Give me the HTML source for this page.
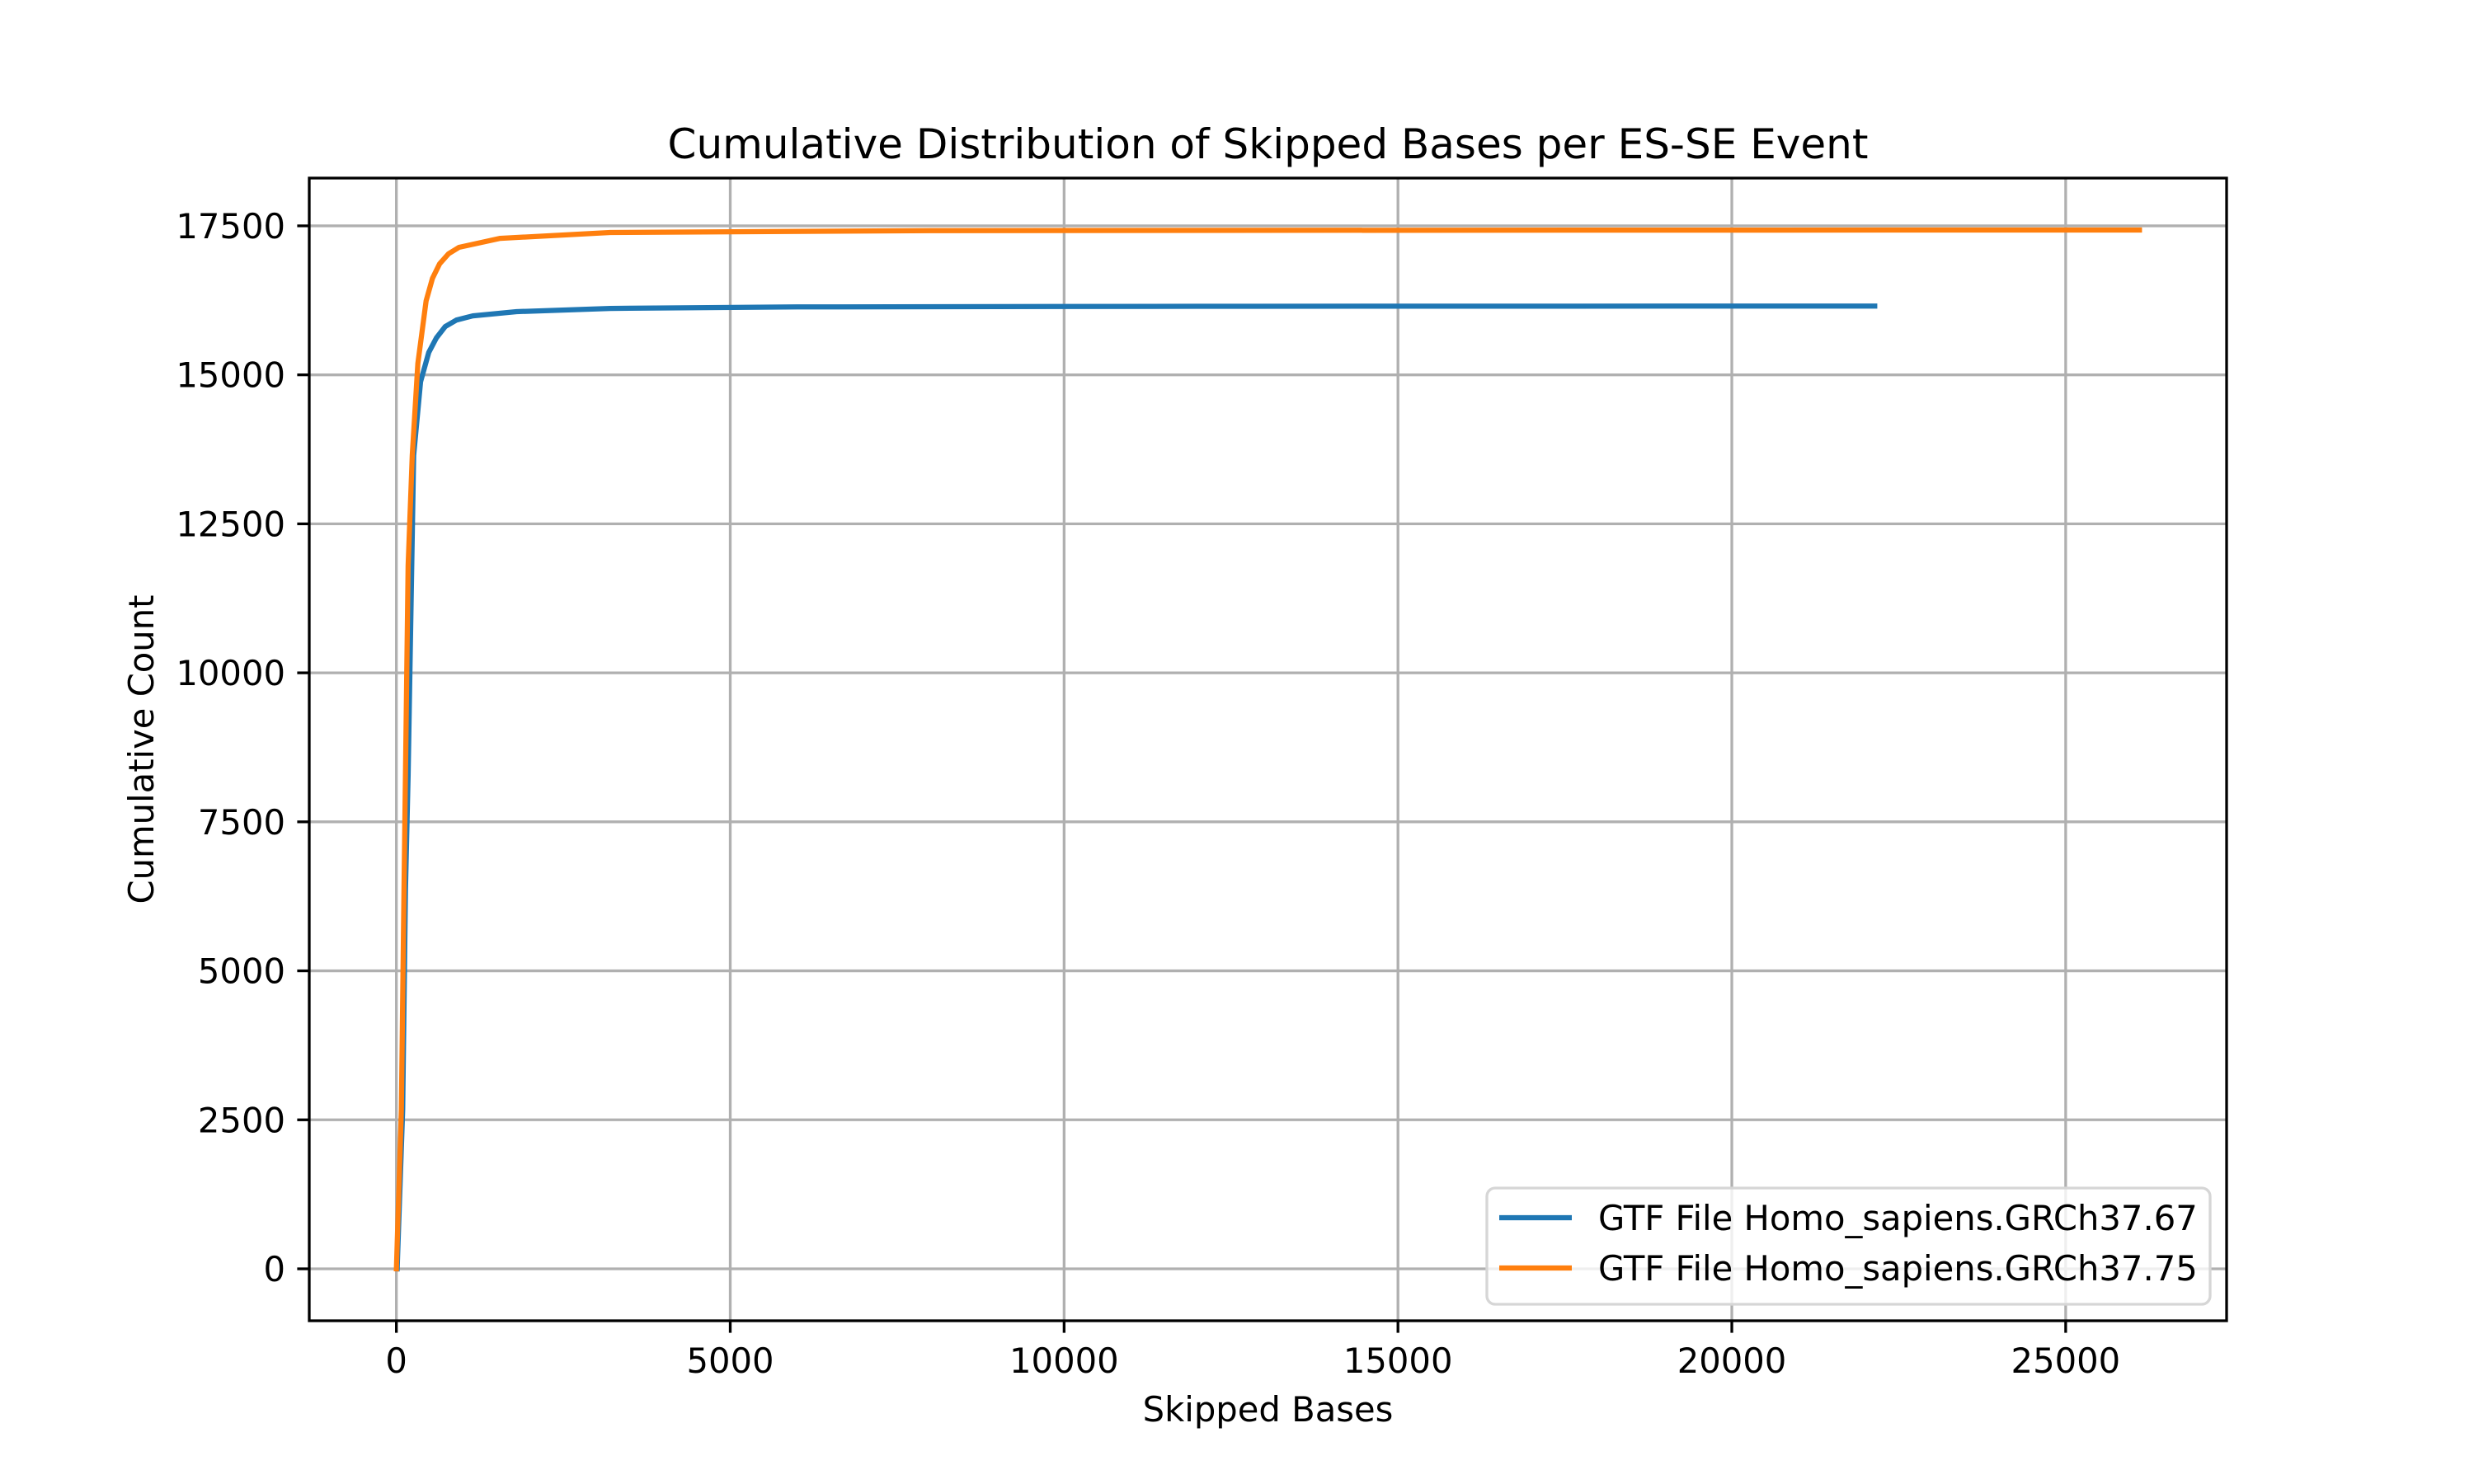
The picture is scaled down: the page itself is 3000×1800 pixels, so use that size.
<!DOCTYPE html>
<html><head><meta charset="utf-8"><style>
html,body{margin:0;padding:0;background:#fff;}
svg{display:block;font-family:"DejaVu Sans","Liberation Sans",sans-serif;}
</style></head><body>
<svg id="chart" width="3000" height="1800" viewBox="0 0 3000 1800" xmlns="http://www.w3.org/2000/svg">
<rect x="0" y="0" width="3000" height="1800" fill="#fff"/>
<g id="grid"></g>
<g id="series"></g>
<rect x="375" y="216" width="2325" height="1386" fill="none" stroke="#000" stroke-width="3.3"/>
<g id="ticks"></g>
<text x="1537.5" y="192" font-size="50" text-anchor="middle">Cumulative Distribution of Skipped Bases per ES-SE Event</text>
<text x="1537.5" y="1724" font-size="41.7" text-anchor="middle">Skipped Bases</text>
<text x="0" y="0" font-size="41.7" text-anchor="middle" transform="translate(186,909) rotate(-90)">Cumulative Count</text>
<g>
<rect x="1803" y="1441" width="877" height="141" rx="10" fill="#fff" fill-opacity="0.8" stroke="#d6d6d6" stroke-width="3.3"/>
<line x1="1818" y1="1477" x2="1906" y2="1477" stroke="#1f77b4" stroke-width="6.25"/>
<text x="1938" y="1492" font-size="41.7">GTF File Homo_sapiens.GRCh37.67</text>
<line x1="1818" y1="1538" x2="1906" y2="1538" stroke="#ff7f0e" stroke-width="6.25"/>
<text x="1938" y="1553" font-size="41.7">GTF File Homo_sapiens.GRCh37.75</text>
</g>
</svg>
<script>
const xTicks = [0, 5000, 10000, 15000, 20000, 25000];
const yTicks = [0, 2500, 5000, 7500, 10000, 12500, 15000, 17500];
const blueX = [12, 94, 136, 176, 259, 362, 485, 600, 732, 900, 1144, 1800, 3202, 6000, 12000, 22140];
const blueY = [0, 2670, 6370, 8286, 13646, 14884, 15376, 15620, 15810, 15920, 15990, 16060, 16115, 16140, 16150, 16155];
const orangeX = [0, 74, 114, 176, 238, 321, 445, 540, 646, 780, 938, 1556, 3202, 8000, 18000, 26105];
const orangeY = [0, 2670, 6370, 11800, 13646, 15190, 16240, 16620, 16862, 17030, 17140, 17290, 17388, 17420, 17428, 17430];

const X0=375, X1=2700, Y0=1602, Y1=216;
const xmin=-1305, xmax=27410, ymin=-871.5, ymax=18301.5;
function sx(v){return X0+(v-xmin)/(xmax-xmin)*(X1-X0);}
function sy(v){return Y0-(v-ymin)/(ymax-ymin)*(Y0-Y1);}
const NS='http://www.w3.org/2000/svg';
function mk(tag,attrs,parent){const e=document.createElementNS(NS,tag);for(const k in attrs)e.setAttribute(k,attrs[k]);parent.appendChild(e);return e;}
const grid=document.getElementById('grid'), ticks=document.getElementById('ticks'), series=document.getElementById('series');
xTicks.forEach(v=>{
  const x=sx(v);
  const g=mk('line',{x1:x,y1:Y1,x2:x,y2:Y0,stroke:'#b0b0b0','stroke-width':3.3},grid);
  
  
  const t=mk('line',{x1:x,y1:Y0,x2:x,y2:Y0+14.6,stroke:'#000','stroke-width':3.3},ticks);
  
  
  const l=mk('text',{x:x,y:Y0+29+34,'font-size':41.7,'text-anchor':'middle'},ticks);
  l.textContent=String(v);
  
  
});
yTicks.forEach(v=>{
  const y=sy(v);
  const g=mk('line',{x1:X0,y1:y,x2:X1,y2:y,stroke:'#b0b0b0','stroke-width':3.3},grid);
  
  
  const t=mk('line',{x1:X0-14.6,y1:y,x2:X0,y2:y,stroke:'#000','stroke-width':3.3},ticks);
  
  
  const l=mk('text',{x:X0-29,y:y+15,'font-size':41.7,'text-anchor':'end'},ticks);
  l.textContent=String(v);
  
  
});
function draw(xs,ys,color,name){
  const pts=xs.map((x,i)=>sx(x).toFixed(1)+','+sy(ys[i]).toFixed(1)).join(' ');
  const p=mk('polyline',{points:pts,fill:'none',stroke:color,'stroke-width':6.25,'stroke-linejoin':'round','stroke-linecap':'square'},series);
  
  
}
draw(blueX,blueY,'#1f77b4','line-grch37-67');
draw(orangeX,orangeY,'#ff7f0e','line-grch37-75');
</script>
</body></html>
